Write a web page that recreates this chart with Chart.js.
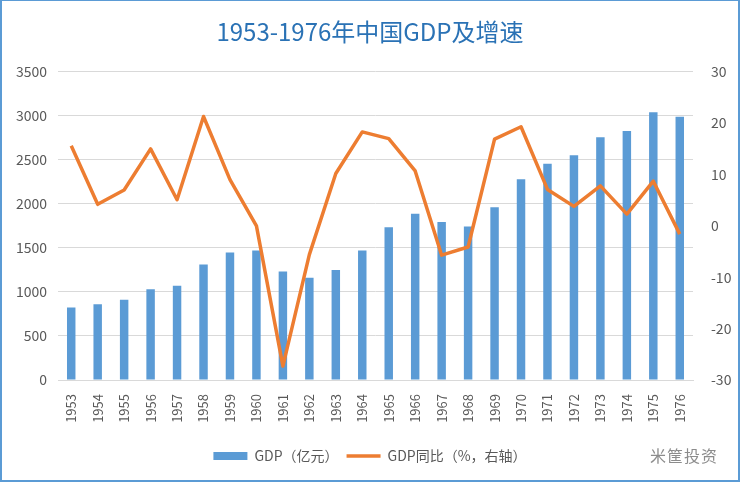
<!DOCTYPE html>
<html>
<head>
<meta charset="utf-8">
<script src="https://cdn.jsdelivr.net/npm/chart.js@4"></script>
<style>
  html, body { margin: 0; padding: 0; background: #fff; }
  #wrap { position: relative; width: 740px; height: 482px; }
  #frame { position: absolute; left: 0; top: 0; width: 740px; height: 482px; box-sizing: border-box;
    border: 2px solid #5b9bd5; border-top-width: 1px; pointer-events: none; }
  #mark { position: absolute; left: 650px; top: 443px; font: 16px "Noto Sans CJK SC"; color: #8c8c8c; letter-spacing: 1px; }
</style>
</head>
<body>
<div id="wrap">
  <canvas id="c" width="740" height="482"></canvas>
  <div id="frame"></div>
  <div id="mark">米筐投资</div>
</div>
<script>
const years = ["1953","1954","1955","1956","1957","1958","1959","1960","1961","1962","1963","1964",
  "1965","1966","1967","1968","1969","1970","1971","1972","1973","1974","1975","1976"];
const gdp = [824.4, 859.8, 911.6, 1030.7, 1071.4, 1312.3, 1447.5, 1470.1, 1232.3, 1162.2, 1248.3, 1469.9,
  1734.0, 1888.7, 1794.2, 1744.1, 1962.2, 2279.7, 2456.9, 2552.4, 2756.2, 2827.7, 3039.5, 2988.6];
const growth = [15.6, 4.2, 7.0, 15.0, 5.1, 21.3, 9.0, 0.0, -27.3, -5.6, 10.2, 18.3,
  17.0, 10.7, -5.7, -4.1, 16.9, 19.3, 7.1, 3.8, 7.8, 2.3, 8.7, -1.6];

const font = "'Noto Sans CJK SC', 'Noto Sans', sans-serif";
const grey = "#595959";

new Chart(document.getElementById("c"), {
  data: {
    labels: years,
    datasets: [
      {
        type: "bar",
        label: "GDP（亿元）",
        data: gdp,
        backgroundColor: "#5b9bd5",
        barPercentage: 0.32,
        categoryPercentage: 1,
        yAxisID: "y",
        order: 1
      },
      {
        type: "line",
        label: "GDP同比（%，右轴）",
        data: growth,
        borderColor: "#ed7d31",
        backgroundColor: "#ed7d31",
        borderWidth: 3.5,
        tension: 0,
        pointRadius: 0,
        borderJoinStyle: "round",
        yAxisID: "y1",
        order: 0
      }
    ]
  },
  options: {
    responsive: false,
    animation: false,
    layout: { padding: { left: 0, right: 0, top: 0, bottom: 9 } },
    plugins: {
      title: {
        display: true,
        text: "1953-1976年中国GDP及增速",
        color: "#2a72b5",
        font: { family: font, size: 24, weight: "normal" },
        padding: { top: 17, bottom: 26 }
      },
      legend: {
        position: "bottom",
        labels: {
          usePointStyle: true,
          pointStyleWidth: 34,
          boxHeight: 8,
          color: grey,
          font: { family: font, size: 14 },
          padding: 8,
          sort: (a, b) => a.datasetIndex - b.datasetIndex,
          generateLabels(chart) {
            const items = Chart.defaults.plugins.legend.labels.generateLabels(chart);
            items.forEach(it => {
              if (it.datasetIndex === 1) { it.pointStyle = "line"; it.lineWidth = 3.5; it.strokeStyle = "#ed7d31"; }
              else { it.pointStyle = "rect"; it.lineWidth = 0; }
            });
            return items;
          }
        }
      },
      tooltip: { enabled: false }
    },
    scales: {
      x: {
        offset: true,
        grid: { display: false },
        border: { display: true, color: "#d9d9d9" },
        ticks: { color: grey, font: { family: font, size: 13 }, minRotation: 90, maxRotation: 90, padding: 6, autoSkip: false },
        afterFit: s => { s.height = 61; }
      },
      y: {
        position: "left",
        min: 0,
        max: 3500,
        ticks: { stepSize: 500, color: grey, font: { family: font, size: 14 }, padding: 11, callback: v => String(v) },
        grid: { color: "#d9d9d9", drawTicks: false },
        border: { display: false },
        afterFit: s => { s.width = 58; }
      },
      y1: {
        position: "right",
        min: -30,
        max: 30,
        ticks: { stepSize: 10, color: grey, font: { family: font, size: 14 }, padding: 10, callback: v => String(v) },
        grid: { display: false },
        border: { display: false },
        afterFit: s => { s.width = 47; }
      }
    }
  }
});
</script>
</body>
</html>
